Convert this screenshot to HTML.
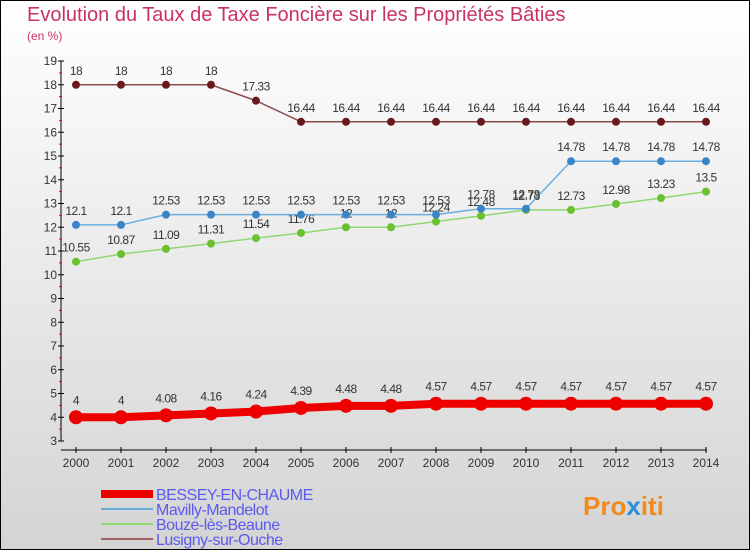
<!DOCTYPE html>
<html><head><meta charset="utf-8"><style>
body{margin:0}
#c{position:relative;width:748px;height:548px;border:1px solid #000;background:linear-gradient(#fff,#d4d4d4);font-family:"Liberation Sans",sans-serif;overflow:hidden}
</style></head><body>
<div id="c">
<div style="position:absolute;left:26px;top:3px;font-size:20px;color:#c8326a">Evolution du Taux de Taxe Foncière sur les Propriétés Bâties</div>
<div style="position:absolute;left:26px;top:28px;font-size:12px;color:#c8326a">(en %)</div>
<svg id="s" width="748" height="548" style="position:absolute;left:0;top:0"></svg>
<div style="position:absolute;left:582px;top:490px;font-size:26px;font-weight:bold;color:#f08a1c">Pro<span style="color:#2a8fd8">x</span>iti</div>
</div>
<script>
const years=[2000,2001,2002,2003,2004,2005,2006,2007,2008,2009,2010,2011,2012,2013,2014];
const bessey=[4,4,4.08,4.16,4.24,4.39,4.48,4.48,4.57,4.57,4.57,4.57,4.57,4.57,4.57];
const mavilly=[12.1,12.1,12.53,12.53,12.53,12.53,12.53,12.53,12.53,12.78,12.78,14.78,14.78,14.78,14.78];
const bouze=[10.55,10.87,11.09,11.31,11.54,11.76,12,12,12.24,12.48,12.73,12.73,12.98,13.23,13.5];
const lusigny=[18,18,18,18,17.33,16.44,16.44,16.44,16.44,16.44,16.44,16.44,16.44,16.44,16.44];
const yTicks=[3,4,5,6,7,8,9,10,11,12,13,14,15,16,17,18,19];
const NS="http://www.w3.org/2000/svg";const s=document.getElementById('s');
const X=i=>75+i*45, Y=v=>440-(v-3)*23.75;
function el(t,a,p){const e=document.createElementNS(NS,t);for(const k in a)e.setAttribute(k,a[k]);(p||s).appendChild(e);return e;}
let ax=el('line',{x1:60,y1:Y(19),x2:60,y2:Y(3),stroke:'#000'});

let bx=el('line',{x1:60,y1:449,x2:706,y2:449,stroke:'#000'});

yTicks.forEach(v=>{el('line',{x1:57,y1:Y(v),x2:63,y2:Y(v),stroke:'#000'});
 if(v<19)el('line',{x1:58,y1:Y(v+0.5),x2:61,y2:Y(v+0.5),stroke:'#e00'});
 const t=el('text',{x:56,y:Y(v)+4,'text-anchor':'end','font-size':12,fill:'#333'});t.textContent=v;
 });
years.forEach((y,i)=>{el('line',{x1:X(i),y1:446,x2:X(i),y2:452,stroke:'#000'});
 const t=el('text',{x:X(i),y:466,'text-anchor':'middle','font-size':12,fill:'#333'});t.textContent=y;
 });
function series(data,name,col,dot,w,r){
 const g=el('g',{});
 el('polyline',{points:data.map((v,i)=>X(i)+','+Y(v)).join(' '),fill:'none',stroke:col,'stroke-width':w},g);
 data.forEach((v,i)=>{const c=el('circle',{cx:X(i),cy:Y(v),r:r,fill:dot},g);
  
  const t=el('text',{x:X(i),y:Y(v)-(r+6),'text-anchor':'middle','font-size':12,fill:'#333','letter-spacing':'-0.5'},g);t.textContent=v;
  });
}
series(lusigny,'lusigny','#8a4a4a','#6a1a1a',1.5,4);
series(bouze,'bouze','#90d870','#6cc030',1.5,4);
series(mavilly,'mavilly','#6aaee0','#3a84c8',1.5,4);
series(bessey,'bessey','#ee0000','#ee0000',8,7);
const leg=[['BESSEY-EN-CHAUME','#ee0000',8],['Mavilly-Mandelot','#6aaee0',2],['Bouze-lès-Beaune','#90d870',2],['Lusigny-sur-Ouche','#a06060',2]];
leg.forEach((l,i)=>{const y=493+i*15;const g=el('g',{});
 el('line',{x1:100,y1:y,x2:152,y2:y,stroke:l[1],'stroke-width':l[2]},g);
 const t=el('text',{x:155,y:y+6,'font-size':16,fill:'#5a5aee','letter-spacing':'-0.5'},g);t.textContent=l[0];});
</script>
</body></html>
